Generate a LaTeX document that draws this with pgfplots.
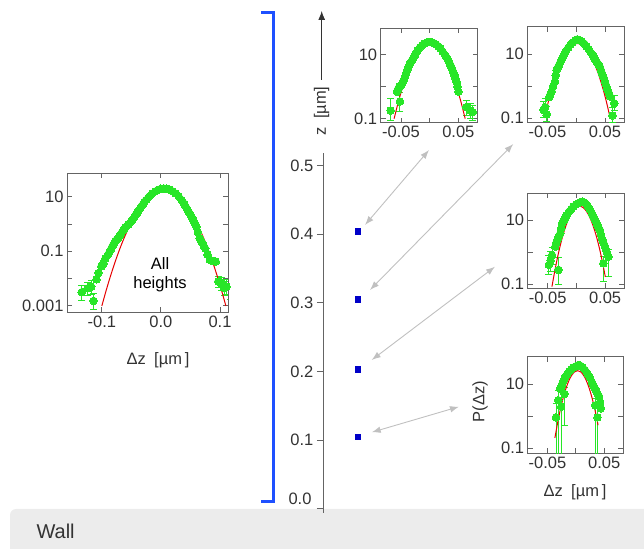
\documentclass[border=0pt]{standalone}
\usepackage{pgfplots}
\pgfplotsset{compat=1.18}
\usepackage{fontspec}
\setmainfont{Liberation Sans}
\usetikzlibrary{arrows.meta}
\definecolor{ptgreen}{RGB}{40,230,40}
\definecolor{fitred}{RGB}{230,0,0}
\definecolor{axgray}{RGB}{100,100,100}
\definecolor{txtgray}{RGB}{51,51,51}
\definecolor{brblue}{RGB}{30,80,255}
\definecolor{sqblue}{RGB}{0,0,200}
\definecolor{arrgray}{RGB}{192,192,192}
\definecolor{wallgray}{RGB}{236,236,236}
\newcommand\tf{\fontsize{16.5}{19}\selectfont}
\pgfplotsset{
  myPanel/.style={
    scale only axis, anchor=south west,
    axis line style={draw=axgray, line width=0.9pt},
    every tick/.style={draw=axgray, line width=0.9pt},
    tick align=inside, tick pos=both, major tick length=5pt,
    yminorticks=false, xminorticks=false,
    scaled x ticks=false, scaled y ticks=false,
    tick label style={font=\tf, text=txtgray},
  },
  myInset/.style={myPanel,
    xtick={-0.05,0,0.05}, xticklabels={-0.05,,0.05},
    ytick={0.1,1,10}, yticklabels={0.1,,10}},
  gPts/.style={color=ptgreen, only marks, mark=*, mark size=3.8pt, mark options={draw=ptgreen, fill=ptgreen, line width=0pt}},
  gErr/.style={color=ptgreen, only marks, mark=*, mark size=3.8pt, mark options={draw=ptgreen, fill=ptgreen, line width=0pt},
    error bars/y dir=both, error bars/y explicit,
    error bars/error bar style={draw=ptgreen, line width=1pt},
    error bars/error mark options={rotate=90, draw=ptgreen, line width=1pt, mark size=3.5pt}},
  fitRed/.style={fitred, line width=1pt, smooth, no marks},
}
\begin{document}
\begin{tikzpicture}
\useasboundingbox (0pt,0pt) rectangle (644pt,548pt);
% wall
\fill[wallgray, rounded corners=6pt] (10pt,-20pt) rectangle (680pt,39pt);
\node[anchor=west, font=\fontsize{20}{24}\selectfont, text=txtgray] at (33pt,17pt) {Wall};

% ---------- all heights panel ----------
\begin{axis}[myPanel, ymode=log, at={(67pt,236pt)}, width=161pt, height=139pt,
  xmin=-0.159, xmax=0.1136, ymin=5.9e-4, ymax=74,
  xtick={-0.1,0,0.1}, xticklabels={-0.1,0.0,0.1},
  ytick={0.001,0.01,0.1,1,10}, yticklabels={0.001,,0.1,,10}]
\addplot[gPts] coordinates {
(-0.109,0.00933)(-0.1055,0.016)(-0.101,0.0275)(-0.099,0.031)(-0.097,0.0355)(-0.094,0.0550)
(-0.090,0.0724)(-0.0875,0.09)(-0.085,0.112)(-0.083,0.14)(-0.081,0.170)(-0.079,0.20)
(-0.077,0.240)(-0.0745,0.27)(-0.072,0.302)(-0.070,0.36)(-0.068,0.417)(-0.066,0.50)
(-0.064,0.575)(-0.062,0.66)(-0.060,0.759)(-0.0575,0.85)(-0.055,0.955)(-0.0525,1.1)
(-0.050,1.26)(-0.0475,1.5)(-0.045,1.78)(-0.0425,2.2)(-0.040,2.63)(-0.0375,3.2)
(-0.035,3.80)(-0.0325,4.6)(-0.030,5.50)(-0.0275,6.5)(-0.025,7.59)(-0.020,10.0)
(-0.015,12.9)(-0.010,15.5)(-0.005,17.8)(0.000,19.5)(0.005,20.0)
(0.010,19.5)(0.015,18.2)(0.020,15.8)(0.025,13.2)(0.030,10.5)
(0.035,7.59)(0.0375,6.3)(0.040,5.25)(0.0425,4.2)(0.045,3.31)(0.0475,2.7)(0.050,2.14)
(0.0525,1.7)(0.055,1.32)(0.0575,1.05)(0.060,0.794)(0.0625,0.50)(0.0655,0.302)(0.0675,0.25)
(0.070,0.200)(0.0725,0.16)(0.075,0.126)(0.079,0.075)(0.0828,0.0479)(0.0855,0.045)
(0.088,0.0437)(0.0905,0.043)(0.093,0.0417)};
\addplot[gErr] table[x=x,y=y,y error plus=ep,y error minus=em] {
x y em ep
-0.134 0.00316 0.0016 0.0025
-0.124 0.00437 0.0020 0.0030
-0.118 0.00501 0.0025 0.0035
-0.114 0.00151 0.0008 0.0012
0.097 0.00776 0.0030 0.0040
0.103 0.00676 0.0030 0.0040
0.107 0.00447 0.0020 0.0030
0.111 0.00501 0.0025 0.0040
0.118 0.00355 0.0018 0.0030
};
\addplot[fitRed] coordinates {
(-0.100,0.000986)(-0.0925,0.00377)(-0.085,0.0130)(-0.0775,0.0408)(-0.070,0.116)
(-0.0625,0.298)(-0.055,0.692)(-0.0475,1.46)(-0.040,2.78)(-0.0325,4.80)
(-0.025,7.50)(-0.0175,10.6)(-0.010,13.6)(-0.0025,15.8)(0.005,16.6)
(0.0125,15.8)(0.020,13.6)(0.0275,10.6)(0.035,7.50)(0.0425,4.80)
(0.050,2.78)(0.0575,1.46)(0.065,0.692)(0.0725,0.298)(0.080,0.116)
(0.0875,0.0408)(0.095,0.0130)(0.1025,0.00377)(0.110,0.000986)};
\end{axis}
\node[font=\tf, text=black, align=center, inner sep=0pt] at (160pt,273.5pt) {All\\heights};
\node[font=\tf, text=txtgray] at (158pt,188pt) {Δz\enspace[µm\,]};

% ---------- z axis ----------
\begin{axis}[scale only axis, at={(323.3pt,35.2pt)}, anchor=south west,
  width=100pt, height=359.8pt,
  xmin=0, xmax=100, ymin=-0.006, ymax=0.5185,
  axis x line=none, axis y line=left,
  y axis line style={-, draw=axgray, line width=0.9pt},
  every tick/.style={draw=axgray, line width=0.9pt},
  ytick={0,0.1,0.2,0.3,0.4,0.5}, yticklabels={,0.1,0.2,0.3,0.4,0.5},
  tick align=outside, major tick length=6.5pt, yminorticks=false,
  tick label style={font=\tf, text=txtgray},
  clip=false]
\addplot[only marks, mark=square*, mark size=2.6pt, mark options={draw=sqblue, fill=sqblue, line width=0pt}]
  coordinates {(34.4,0.404)(34.4,0.305)(34.4,0.203)(34.4,0.104)};
\end{axis}
\node[anchor=east, font=\tf, text=txtgray] at (315pt,49pt) {0.0};

% arrow and z label
\draw[txtgray, line width=0.9pt, -{Latex[length=9pt,width=7pt]}] (321.7pt,468pt) -- (321.7pt,537pt);
\node[rotate=90, font=\tf, text=txtgray] at (321.7pt,437pt) {z\enspace[µm]};

% blue bracket
\draw[brblue, line width=3pt] (261pt,535.3pt) -- (273.3pt,535.3pt) -- (273.3pt,46.3pt) -- (261pt,46.3pt);

% ---------- inset z=0.4 ----------
\begin{axis}[myInset, ymode=log, at={(380.7pt,425.3pt)}, width=97pt, height=94.4pt,
  xmin=-0.0854, xmax=0.0838, ymin=0.075, ymax=64.6]
\addplot[gPts] coordinates {
(-0.057,0.69)(-0.055,0.85)(-0.053,1.0)(-0.051,1.05)(-0.049,1.12)(-0.047,1.35)
(-0.045,1.6)(-0.043,2.0)(-0.041,2.6)(-0.039,3.3)(-0.037,4.1)(-0.035,4.8)(-0.033,5.6)
(-0.031,6.5)(-0.029,7.5)(-0.027,8.7)(-0.025,10.0)(-0.021,13.0)(-0.017,16.5)(-0.013,19.5)(-0.009,21.5)
(-0.005,23.5)(-0.001,24.5)(0.003,24.0)(0.007,22.5)(0.011,20.5)(0.015,18.0)
(0.019,15.0)(0.023,12.0)(0.027,9.5)(0.029,8.3)(0.031,7.2)(0.033,6.2)(0.035,5.2)(0.037,4.4)(0.039,3.6)
(0.041,2.9)(0.043,2.3)(0.045,1.8)(0.047,1.4)(0.0485,1.0)(0.050,0.69)};
\addplot[gErr] table[x=x,y=y,y error plus=ep,y error minus=em] {
x y em ep
-0.068 0.178 0.09 0.25
-0.052 0.34 0.17 0.30
0.064 0.23 0.10 0.15
0.071 0.178 0.08 0.12
0.075 0.16 0.07 0.10
};
\addplot[fitRed] coordinates {
(-0.062,0.100)(-0.055,0.313)(-0.05,0.649)(-0.045,1.26)(-0.04,2.26)(-0.035,3.81)
(-0.03,5.98)(-0.025,8.77)(-0.02,12.0)(-0.015,15.3)(-0.01,18.2)(-0.005,20.2)(0,20.9)
(0.005,20.2)(0.01,18.2)(0.015,15.3)(0.02,12.0)(0.025,8.77)(0.03,5.98)(0.035,3.81)
(0.04,2.26)(0.045,1.26)(0.05,0.649)(0.055,0.313)(0.062,0.100)};
\end{axis}

% ---------- inset z=0.3 ----------
\begin{axis}[myInset, ymode=log, at={(527.3pt,425.3pt)}, width=97pt, height=96pt,
  xmin=-0.0849, xmax=0.0835, ymin=0.0711, ymax=73.6]
\addplot[gPts] coordinates {
(-0.047,0.45)(-0.045,0.55)(-0.0425,0.68)(-0.040,1.0)(-0.037,1.38)(-0.0355,2.2)
(-0.034,3.2)(-0.032,3.8)(-0.030,4.5)(-0.028,5.4)(-0.026,6.5)(-0.024,7.6)
(-0.022,9.0)(-0.020,10.5)(-0.018,12.5)(-0.014,16.0)(-0.010,20.0)(-0.006,23.5)(-0.002,27.0)
(0.002,29.5)(0.006,28.0)(0.010,25.0)(0.014,21.5)(0.018,17.5)(0.022,14.0)
(0.026,11.0)(0.028,9.7)(0.030,8.5)(0.032,7.4)(0.034,6.5)(0.036,5.7)(0.038,5.0)
(0.0395,4.5)(0.041,4.1)(0.043,3.2)(0.045,2.5)(0.0475,1.9)
(0.050,1.38)(0.052,1.05)(0.054,0.80)(0.0565,0.62)(0.059,0.47)};
\addplot[gErr] table[x=x,y=y,y error plus=ep,y error minus=em] {
x y em ep
-0.054 0.22 0.10 0.20
-0.057 0.18 0.08 0.15
-0.051 0.13 0.05 0.10
0.066 0.29 0.12 0.20
0.063 0.12 0.05 0.10
};
\addplot[fitRed] coordinates {
(-0.055,0.100)(-0.048,0.347)(-0.043,0.762)(-0.038,1.54)(-0.033,2.87)(-0.028,4.92)
(-0.023,7.76)(-0.018,11.3)(-0.013,15.1)(-0.008,18.5)(-0.003,21.0)(0.002,21.9)
(0.007,21.0)(0.012,18.5)(0.017,15.1)(0.022,11.3)(0.027,7.76)(0.032,4.92)
(0.037,2.87)(0.042,1.54)(0.047,0.762)(0.052,0.347)(0.059,0.100)};
\end{axis}

% ---------- inset z=0.2 ----------
\begin{axis}[myInset, ymode=log, at={(527.7pt,259.7pt)}, width=96.6pt, height=95pt,
  xmin=-0.0849, xmax=0.0835, ymin=0.0751, ymax=67.6]
\addplot[gPts] coordinates {
(-0.037,1.48)(-0.035,2.0)(-0.033,2.5)(-0.031,3.0)(-0.028,3.9)(-0.0265,5.5)(-0.025,7.9)
(-0.023,9.0)(-0.021,10.5)(-0.019,12.0)(-0.017,14.0)
(-0.013,18.0)(-0.009,22.0)(-0.005,26.0)(-0.001,30.0)(0.003,33.0)(0.007,36.0)
(0.011,37.0)(0.015,34.0)(0.019,28.0)(0.023,22.0)(0.027,16.0)(0.029,13.5)(0.031,11.5)
(0.033,9.5)(0.035,8.0)(0.0365,7.0)(0.038,6.0)(0.0395,5.4)(0.041,4.9)(0.043,3.5)(0.045,2.5)
(0.0475,1.9)(0.050,1.48)(0.0515,1.2)(0.053,1.0)};
\addplot[gErr] table[x=x,y=y,y error plus=ep,y error minus=em] {
x y em ep
-0.0425 0.81 0.40 0.60
-0.048 0.40 0.20 0.40
-0.045 0.55 0.30 0.50
-0.031 0.28 0.18 0.40
0.056 0.72 0.55 0.50
0.047 0.45 0.33 0.30
};
\addplot[fitRed] coordinates {
(-0.0426,0.0848)(-0.0396,0.170)(-0.0346,0.492)(-0.0296,1.26)(-0.0246,2.84)
(-0.0196,5.64)(-0.0146,9.9)(-0.0096,15.3)(-0.0046,20.9)(0.0004,25.3)(0.0054,26.9)
(0.0104,25.3)(0.0154,20.9)(0.0204,15.3)(0.0254,9.9)(0.0304,5.64)(0.0354,2.84)
(0.0404,1.26)(0.0454,0.492)(0.0504,0.170)};
\end{axis}

% ---------- inset z=0.1 ----------
\begin{axis}[myInset, ymode=log, at={(527.7pt,94.7pt)}, width=95.6pt, height=96.6pt,
  xmin=-0.0849, xmax=0.0835, ymin=0.0698, ymax=72.9]
\addplot[gPts] coordinates {
(-0.028,7.2)(-0.026,8.5)(-0.024,10.5)(-0.022,12.5)(-0.020,15.0)(-0.018,17.5)(-0.016,20.0)
(-0.012,25.0)(-0.008,30.0)
(-0.004,34.0)(0.000,37.0)(0.004,40.0)(0.008,38.0)(0.012,34.0)(0.016,28.0)
(0.020,22.0)(0.024,17.0)(0.028,12.0)(0.030,10.0)(0.032,8.5)(0.034,7.2)(0.036,6.0)
(0.0385,5.0)(0.041,4.1)(0.0425,2.8)(0.044,1.78)};
\addplot[gErr] table[x=x,y=y,y error plus=ep,y error minus=em] {
x y em ep
-0.031 3.2 3.17 3.0
-0.035 0.93 0.90 1.5
-0.026 2.0 1.97 2.0
-0.020 5.0 4.5 3.0
0.038 0.93 0.90 1.2
0.034 2.2 2.17 1.5
};
\addplot[fitRed] coordinates {
(-0.037,0.211)(-0.032,0.656)(-0.027,1.75)(-0.022,4.02)(-0.017,7.94)(-0.012,13.5)
(-0.007,19.7)(-0.002,24.7)(0.003,26.6)(0.008,24.7)(0.013,19.7)(0.018,13.5)
(0.023,7.94)(0.028,4.02)(0.033,1.75)(0.038,0.656)(0.039,0.528)};
\end{axis}
\node[rotate=90, font=\tf, text=txtgray] at (480pt,146.3pt) {P(Δz)};
\node[font=\tf, text=txtgray] at (575pt,55.3pt) {Δz\enspace[µm\,]};

% gray double arrows
\begin{scope}[arrgray, line width=0.9pt, {Latex[length=9pt,width=6.5pt]}-{Latex[length=9pt,width=6.5pt]}]
\draw (365pt,323pt) -- (429pt,398pt);
\draw (370pt,258pt) -- (513.3pt,404pt);
\draw (371.7pt,188pt) -- (495pt,281.3pt);
\draw (371.7pt,115.7pt) -- (459pt,141.3pt);
\end{scope}
\end{tikzpicture}
\end{document}
